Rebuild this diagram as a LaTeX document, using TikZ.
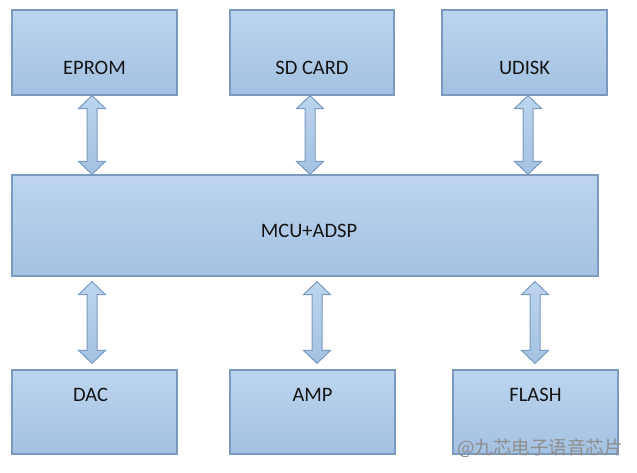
\documentclass[tikz,border=0pt]{standalone}
\usepackage{fontspec}
\setmainfont{Carlito}
\newfontfamily\cjk{Noto Sans CJK SC}
\usetikzlibrary{calc}
\definecolor{cTop}{HTML}{BDD5EE}
\definecolor{cBot}{HTML}{A3C1E2}
\definecolor{cEdge}{HTML}{7B9AC0}
\definecolor{cText}{HTML}{141414}
\definecolor{cMark}{HTML}{8E8E8E}
\tikzset{
  blk/.style    = {rectangle, draw=cEdge, line width=1.2pt, top color=cTop, bottom color=cBot,
                   inner sep=0pt},
  lbl/.style    = {font=\fontsize{20.5}{24}\selectfont, text=cText, inner sep=0pt},
  barrow/.style = {draw=cEdge, line width=1pt, line join=miter, top color=cTop, bottom color=cBot},
  wmark/.style  = {font=\cjk\fontsize{18.5}{22}\selectfont, text=cMark, inner sep=0pt},
}
% two-headed block arrow, tip #1 on top, tip #2 below
\newcommand{\biarrow}[2]{%
  \draw[barrow] #1 -- ++(13.5,13) -- ++(-8.5,0) -- ($#2+(5,-13)$) -- ++(8.5,0)
    -- #2 -- ++(-13.5,-13) -- ++(8.5,0) -- ($#1+(-5,13)$) -- ++(-8.5,0) -- cycle;}

\begin{document}
\begin{tikzpicture}[x=1pt, y=-1pt]
  \useasboundingbox (0,0) rectangle (637,472);

  % upper row
  \node[blk, minimum width=165pt, minimum height=85pt,
        label={[lbl, yshift=-15pt]center:EPROM}] (eprom) at (94.5,52.5) {};
  \node[blk, minimum width=164pt, minimum height=85pt,
        label={[lbl, yshift=-15pt]center:SD CARD}] (sd) at (312,52.5) {};
  \node[blk, minimum width=165pt, minimum height=85pt,
        label={[lbl, yshift=-15pt]center:UDISK}] (udisk) at (524.5,52.5) {};

  % core
  \node[blk, minimum width=586pt, minimum height=101pt,
        label={[lbl, xshift=4pt, yshift=-5pt]center:MCU+ADSP}] (mcu) at (305,225.5) {};

  % lower row
  \node[blk, minimum width=165pt, minimum height=84pt,
        label={[lbl, xshift=-4pt, yshift=17pt]center:DAC}] (dac) at (94.5,412) {};
  \node[blk, minimum width=165pt, minimum height=84pt,
        label={[lbl, yshift=17pt]center:AMP}] (amp) at (312.5,412) {};
  \node[blk, minimum width=165pt, minimum height=84pt,
        label={[lbl, yshift=17pt]center:FLASH}] (flash) at (535.5,412) {};

  \biarrow{([xshift=-2.5pt]eprom.south)}{([xshift=-2.5pt]eprom.south |- mcu.north)}
  \biarrow{([xshift=-2pt]sd.south)}{([xshift=-2pt]sd.south |- mcu.north)}
  \biarrow{([xshift=3.5pt]udisk.south)}{([xshift=3.5pt]udisk.south |- mcu.north)}
  \biarrow{([xshift=-2.5pt,yshift=-5pt]dac.north |- mcu.south)}{([xshift=-2.5pt,yshift=6pt]dac.north)}
  \biarrow{([xshift=4.5pt,yshift=-5pt]amp.north |- mcu.south)}{([xshift=4.5pt,yshift=6pt]amp.north)}
  \biarrow{([xshift=-0.5pt,yshift=-5pt]flash.north |- mcu.south)}{([xshift=-0.5pt,yshift=6pt]flash.north)}

  \node[wmark, anchor=east] (wm) at (623,448) {@九芯电子语音芯片};
\end{tikzpicture}
\end{document}
